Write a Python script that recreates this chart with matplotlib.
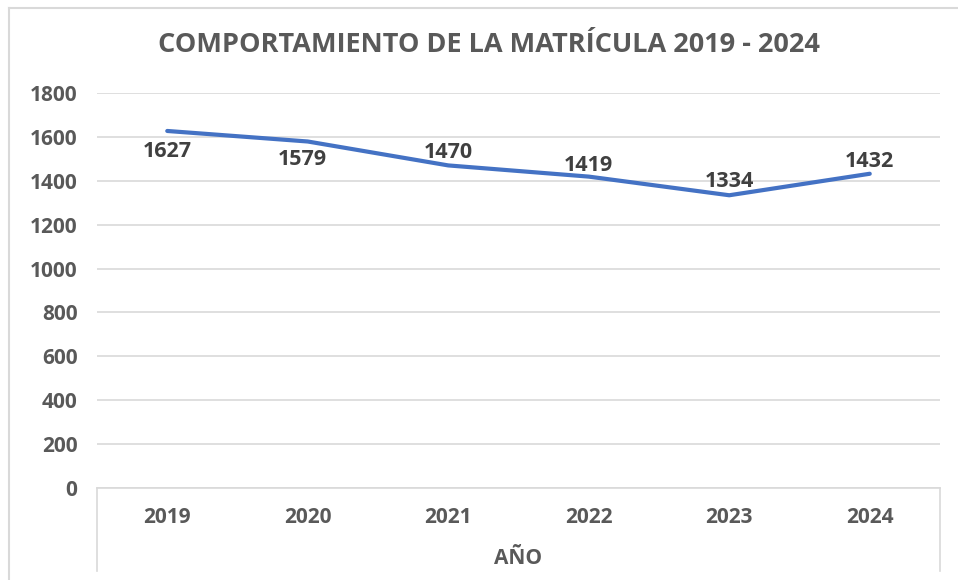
import matplotlib.pyplot as plt
from matplotlib.lines import Line2D

# datos
years = ["2019", "2020", "2021", "2022", "2023", "2024"]
matricula = [1627, 1579, 1470, 1419, 1334, 1432]

# desplazamiento de las etiquetas (pixeles)
label_dy = [-21, -18, 13, 11, 14, 12]
label_dx = [0, -5, 0, 0, 0, 0]

txt_color = "#595959"
lbl_color = "#404040"
grid_color = "#d9d9d9"
fam = ["Open Sans", "DejaVu Sans"]

fig = plt.figure(figsize=(9.58, 5.8), dpi=100)
ax = fig.add_axes([97 / 958, 1 - 488 / 580, (940 - 97) / 958, (488 - 93) / 580])

x = list(range(len(years)))
ax.plot(x, matricula, color="#4472C4", linewidth=3, solid_capstyle="round", solid_joinstyle="round")

for i, v in enumerate(matricula):
    ax.annotate(str(v), (x[i], v), xytext=(label_dx[i], label_dy[i]), textcoords="offset pixels",
                ha="center", va="center", fontsize=15.5, fontweight="bold", color=lbl_color, family=fam)

ax.set_xlim(-0.5, len(years) - 0.5)
ax.set_ylim(0, 1800)
ax.set_yticks(range(0, 1801, 200))
ax.set_xticks(x)
ax.set_xticklabels(years)

for lab in ax.get_xticklabels() + ax.get_yticklabels():
    lab.set_fontweight("bold")
    lab.set_fontsize(15)
    lab.set_color(txt_color)
    lab.set_family(fam)

ax.tick_params(axis="y", length=0, pad=14)
ax.tick_params(axis="x", length=0, pad=14)
ax.grid(axis="y", color=grid_color, linewidth=1.2)
ax.set_axisbelow(True)
for s in ["top", "right", "left"]:
    ax.spines[s].set_visible(False)
ax.spines["bottom"].set_color(grid_color)
ax.spines["bottom"].set_linewidth(1.2)

# separadores verticales bajo el eje
for xs in [97 / 958, 940 / 958]:
    fig.add_artist(Line2D([xs, xs], [1 - 488 / 580, 1 - 571 / 580], color=grid_color, linewidth=1.2))

ax.set_xlabel("AÑO", fontsize=15, fontweight="bold", color=txt_color, family=fam, labelpad=14)

fig.text(489 / 958, 1 - 45 / 580, "COMPORTAMIENTO DE LA MATRÍCULA 2019 - 2024", ha="center", va="center",
         fontsize=19.5, fontweight="bold", color=txt_color, family=fam)

# marco exterior del grafico
fig.add_artist(Line2D([9 / 958, 9 / 958], [0, 1 - 8 / 580], color=grid_color, linewidth=1.5))
fig.add_artist(Line2D([9 / 958, 1], [1 - 8 / 580, 1 - 8 / 580], color=grid_color, linewidth=1.5))

fig.savefig("out.png", dpi=100)
